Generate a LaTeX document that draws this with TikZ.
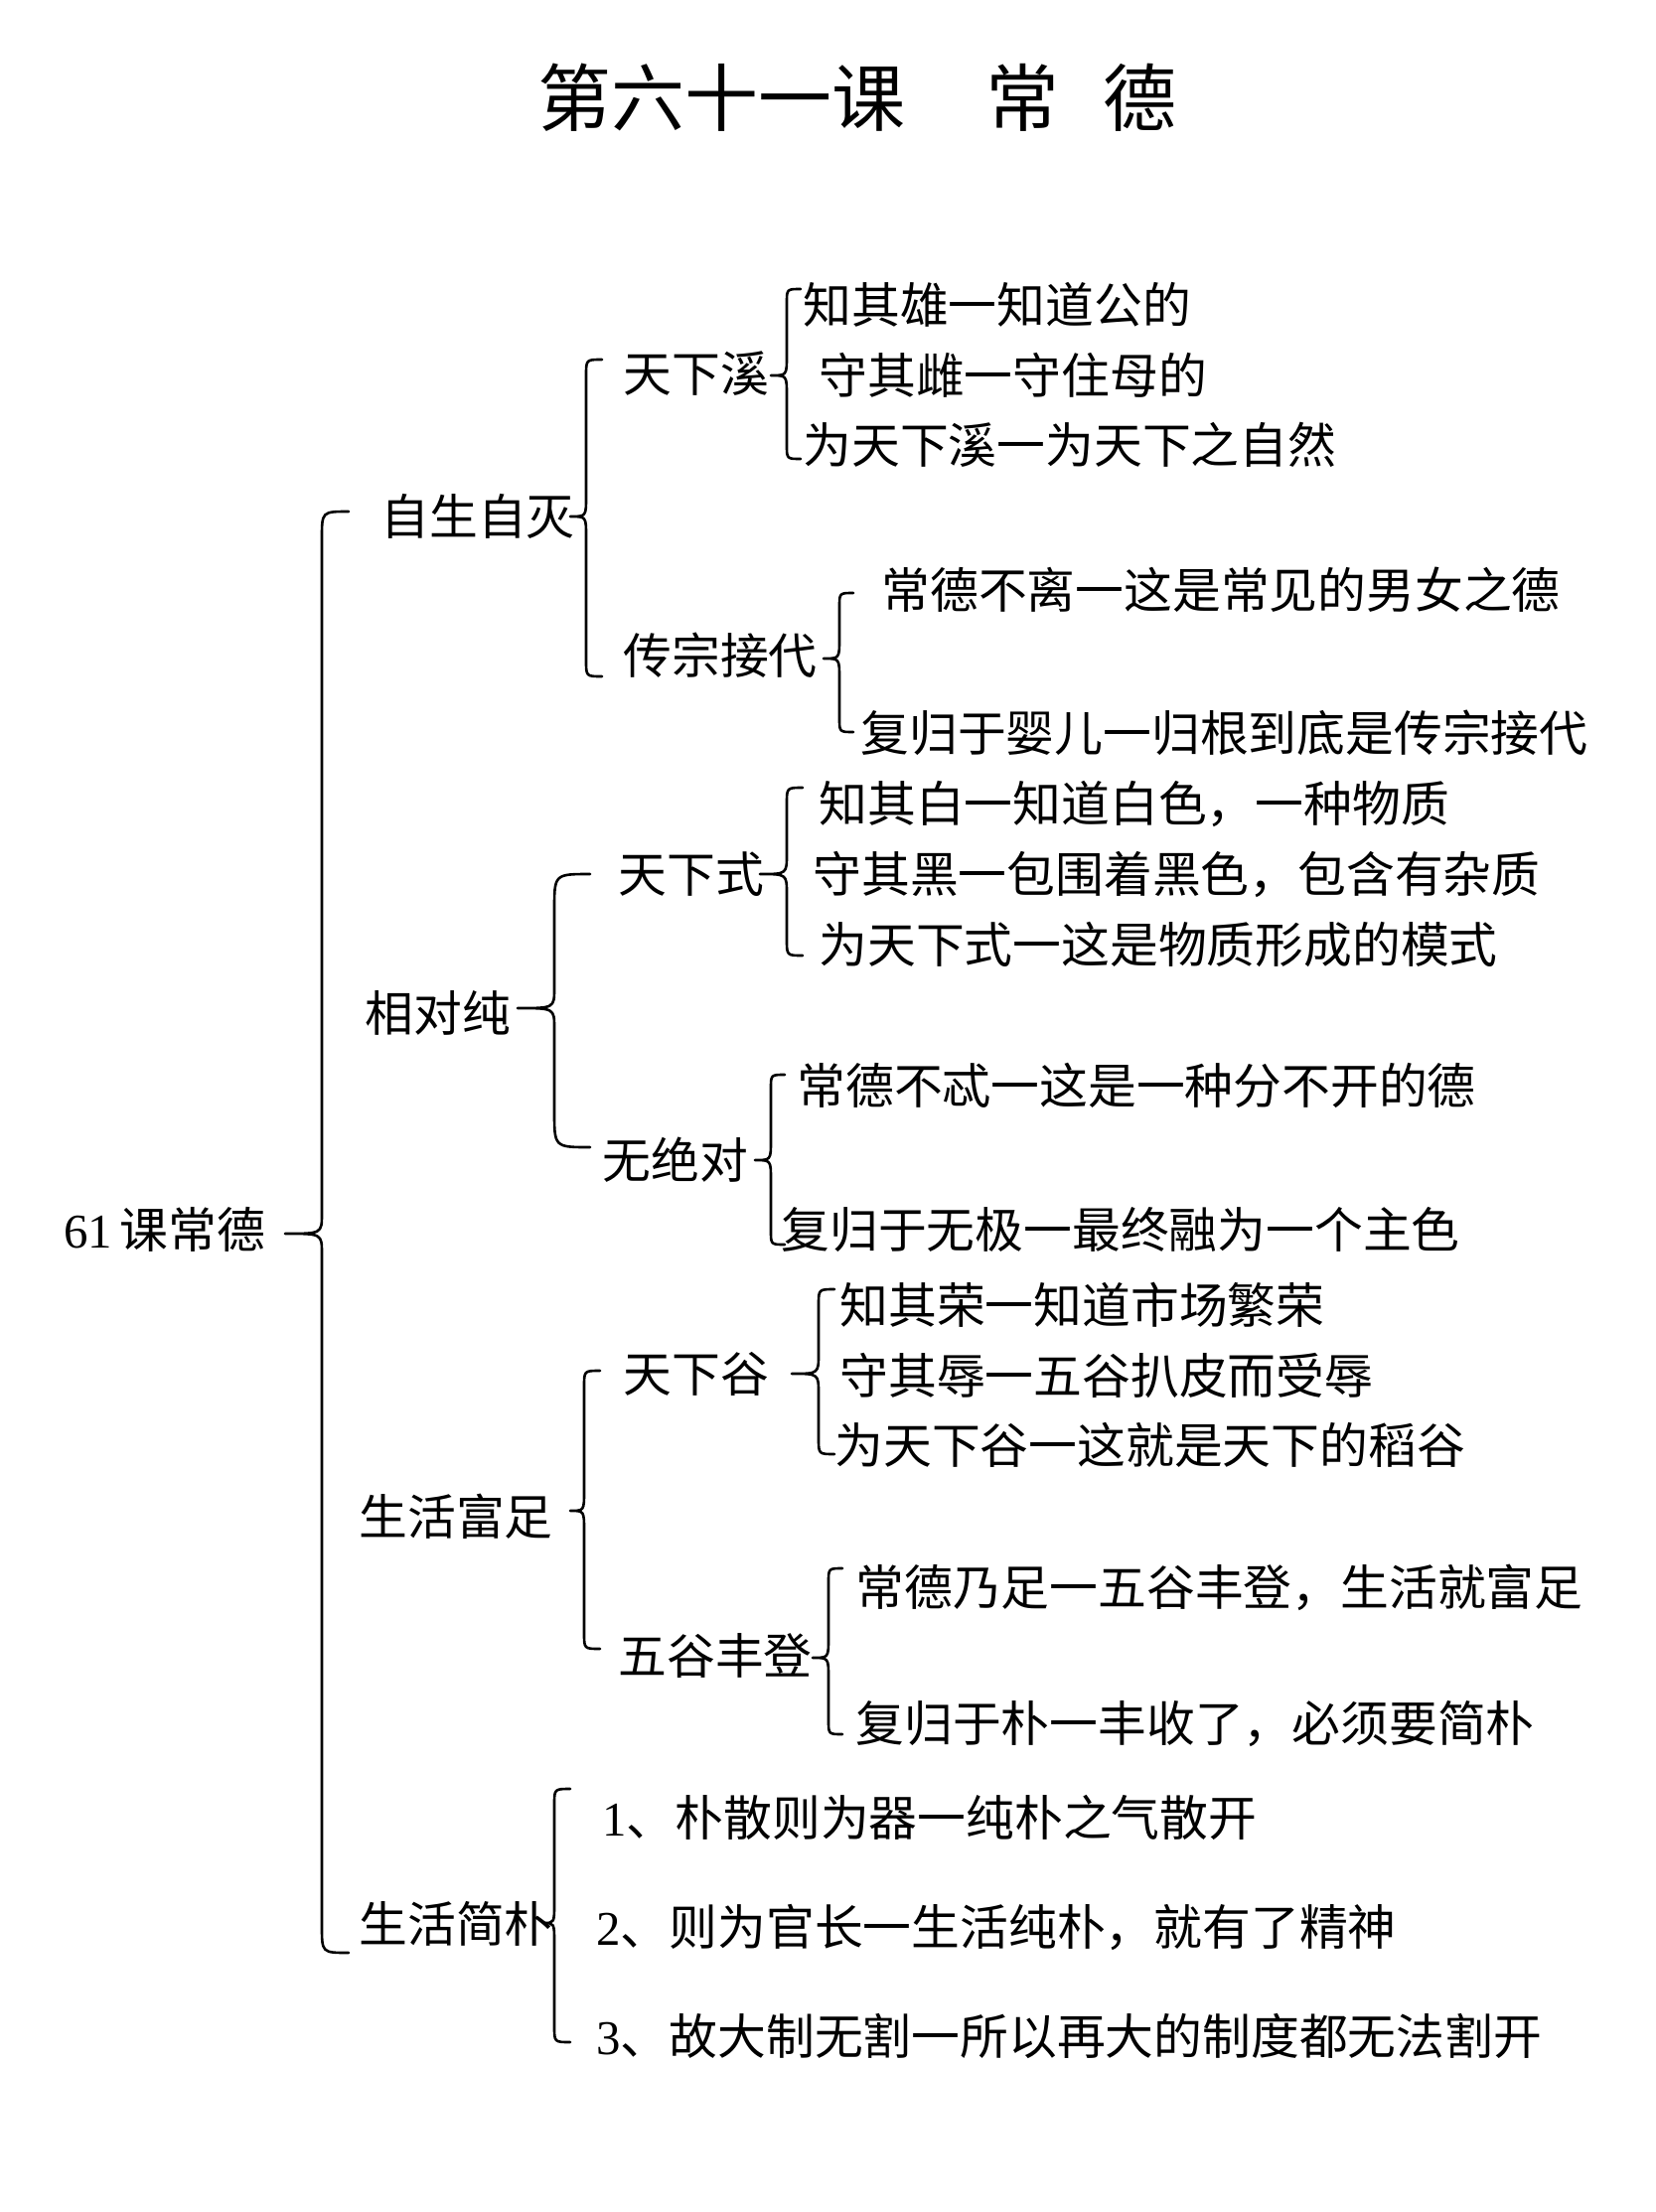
\documentclass[tikz,border=0pt]{standalone}
\usepackage{fontspec}
\setmainfont{Noto Sans CJK SC}
\newfontfamily\digitfont{Liberation Serif}
\newcommand\mybrace[6]{%
  \draw[brc] ({#1+#6},#2) .. controls (#1,#2) .. (#1,{#2+#6}) -- (#1,{#5-20})
    .. controls (#1,#5) .. (#4,#5) .. controls (#1,#5) .. (#1,{#5+20})
    -- (#1,{#3-#6}) .. controls (#1,#3) .. ({#1+#6},#3);}
\begin{document}
\begin{tikzpicture}[x=0.5pt,y=-0.5pt,
  txt/.style={anchor=west,inner sep=0pt,font=\fontsize{24.4pt}{26pt}\selectfont},
  brc/.style={line width=1.3pt,line cap=round,line join=round}]
\useasboundingbox[fill=white] (0,0) rectangle (1666,2227);
% title
\node[inner sep=0pt,font=\fontsize{37pt}{40pt}\selectfont] (title) at (863,98) {第六十一课\hspace{1.1em}常\hspace{0.6em}德};
% root
\node[txt] (root) at (64,1238) {{\digitfont 61}\hspace{0.15em}课常德};
% level 1
\node[txt] (a) at (383,520) {自生自灭};
\node[txt] (b) at (367,1020) {相对纯};
\node[txt] (c) at (361,1527) {生活富足};
\node[txt] (d) at (361,1937) {生活简朴};
% level 2
\node[txt] (a1) at (627,376) {天下溪};
\node[txt] (a2) at (627,660) {传宗接代};
\node[txt] (b1) at (622,880) {天下式};
\node[txt] (b2) at (606,1168) {无绝对};
\node[txt] (c1) at (627,1383) {天下谷};
\node[txt] (c2) at (622,1667) {五谷丰登};
% leaves
\node[txt] (a11) at (808,307) {知其雄一知道公的};
\node[txt] (a12) at (824,378) {守其雌一守住母的};
\node[txt] (a13) at (808,448) {为天下溪一为天下之自然};
\node[txt] (a21) at (887,594) {常德不离一这是常见的男女之德};
\node[txt] (a22) at (866,738) {复归于婴儿一归根到底是传宗接代};
\node[txt] (b11) at (824,810) {知其白一知道白色，一种物质};
\node[txt] (b12) at (818,880) {守其黑一包围着黑色，包含有杂质};
\node[txt] (b13) at (824,951) {为天下式一这是物质形成的模式};
\node[txt] (b21) at (802,1093) {常德不忒一这是一种分不开的德};
\node[txt] (b22) at (786,1238) {复归于无极一最终融为一个主色};
\node[txt] (c11) at (845,1314) {知其荣一知道市场繁荣};
\node[txt] (c12) at (845,1385) {守其辱一五谷扒皮而受辱};
\node[txt] (c13) at (840,1455) {为天下谷一这就是天下的稻谷};
\node[txt] (c21) at (861,1598) {常德乃足一五谷丰登，生活就富足};
\node[txt] (c22) at (861,1736) {复归于朴一丰收了，必须要简朴};
\node[txt] (d1) at (606,1830) {{\digitfont 1}、朴散则为器一纯朴之气散开};
\node[txt] (d2) at (600,1940) {{\digitfont 2}、则为官长一生活纯朴，就有了精神};
\node[txt] (d3) at (600,2050) {{\digitfont 3}、故大制无割一所以再大的制度都无法割开};
% braces
\mybrace{324}{515}{1966}{287}{1242}{27}
\mybrace{590}{362}{681}{574}{520}{16}
\mybrace{792}{291}{462}{776}{378}{14}
\mybrace{845}{597}{737}{829}{663}{14}
\mybrace{558}{880}{1155}{521}{1015}{36}
\mybrace{792}{793}{962}{765}{880}{16}
\mybrace{776}{1082}{1253}{760}{1168}{14}
\mybrace{824}{1298}{1464}{797}{1383}{16}
\mybrace{588}{1380}{1660}{574}{1521}{16}
\mybrace{834}{1579}{1746}{818}{1669}{14}
\mybrace{558}{1801}{2056}{547}{1936}{16}
\end{tikzpicture}
\end{document}
